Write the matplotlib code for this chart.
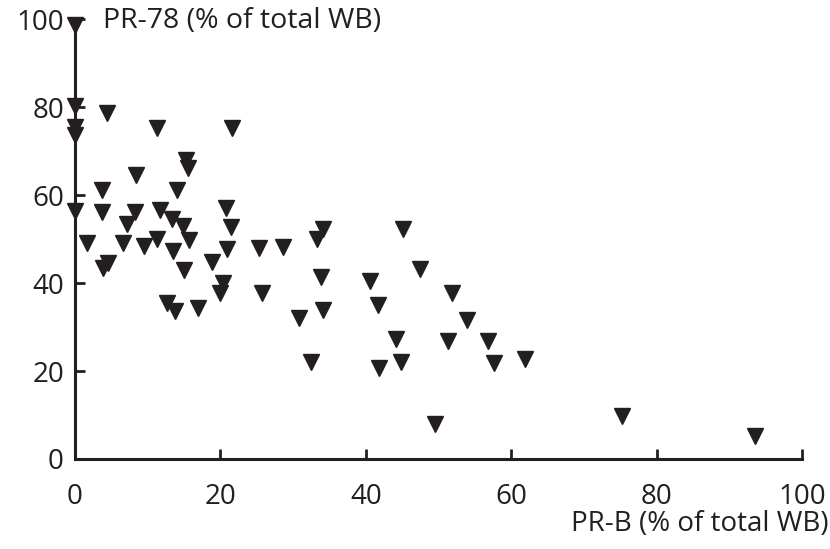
import matplotlib
matplotlib.use("Agg")
import matplotlib.pyplot as plt

plt.rcParams['font.family'] = ['Open Sans', 'DejaVu Sans']

# PR-B (% of total WB)
pr_b = [0, 0, 0, 0, 0,
        4.4, 11.3, 21.6, 15.3, 15.5, 8.4, 3.7, 14.0,
        3.7, 8.3, 11.7, 20.8, 13.3, 14.9, 7.1, 21.5, 15.7, 1.6, 6.6, 9.5,
        11.3, 13.5, 20.9, 4.5, 3.9, 15.0, 18.8, 20.4, 19.9, 12.7, 13.8, 16.9,
        25.3, 28.6, 34.1, 33.3, 45.1, 47.5, 25.7, 33.8, 40.6, 30.8, 34.1,
        41.7, 44.2, 32.5, 41.8, 44.8,
        51.9, 53.9, 51.3, 56.8, 57.6, 61.9, 49.5, 75.2, 93.5]
# PR-78 (% of total WB)
pr_78 = [98.6, 80.2, 75.5, 73.6, 56.4,
         78.6, 75.2, 75.2, 68.0, 66.1, 64.5, 61.1, 61.1,
         56.1, 56.1, 56.6, 57.0, 54.5, 53.0, 53.4, 52.7, 49.8, 49.1, 49.1, 48.4,
         50.0, 47.3, 47.7, 44.5, 43.4, 43.0, 44.8, 40.0, 37.7, 35.5, 33.6, 34.3,
         48.0, 48.2, 52.3, 50.0, 52.3, 43.2, 37.7, 41.4, 40.5, 32.0, 33.9,
         35.0, 27.3, 22.0, 20.7, 22.0,
         37.7, 31.6, 26.8, 26.8, 21.8, 22.7, 8.0, 9.8, 5.2]

ink = '#231f20'

fig = plt.figure(figsize=(8.3, 5.49), dpi=100)
ax = fig.add_axes([0.0904, 0.164, 0.876, 0.801])

ax.plot(pr_b, pr_78, linestyle='none', marker='v', markersize=11,
        color=ink, clip_on=False, zorder=5)

ax.set_xlim(0, 100)
ax.set_ylim(0, 100)
ax.set_xticks([0, 20, 40, 60, 80, 100])
ax.set_yticks([0, 20, 40, 60, 80, 100])

for side in ['top', 'right']:
    ax.spines[side].set_visible(False)
for side in ['left', 'bottom']:
    ax.spines[side].set_linewidth(2.2)
    ax.spines[side].set_color(ink)

ax.tick_params(direction='in', length=7, width=2, color=ink,
               labelsize=20, labelcolor=ink)
ax.tick_params(axis='x', pad=17)
ax.tick_params(axis='y', pad=8)

fig.text(0.124, 0.962, 'PR-78 (% of total WB)', fontsize=20.5, color=ink,
         ha='left', va='center')
fig.text(0.998, 0.045, 'PR-B (% of total WB)', fontsize=20, color=ink,
         ha='right', va='center')

fig.savefig('out.png', dpi=100)
